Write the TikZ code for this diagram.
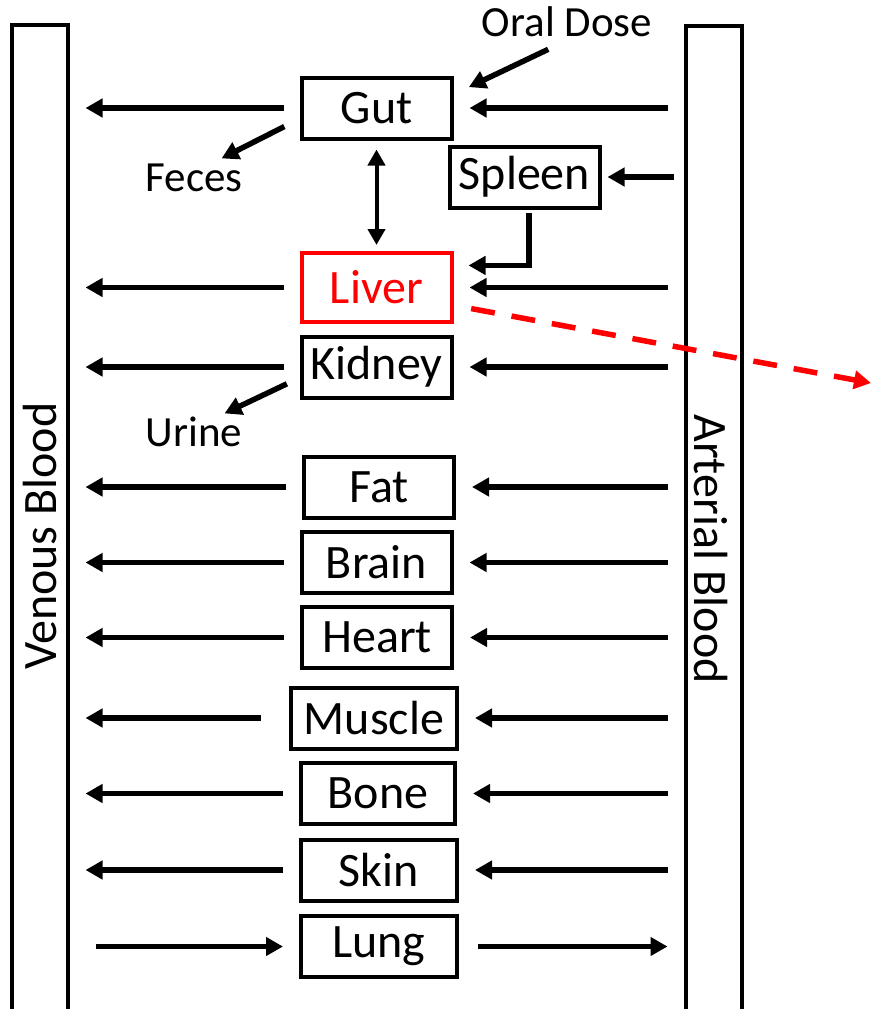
\documentclass[tikz,border=0pt]{standalone}
\usepackage{fontspec}
\setmainfont{Carlito}
\usetikzlibrary{arrows.meta,positioning,calc}
\definecolor{Red}{HTML}{FF0000}
\tikzset{
  organ/.style={draw,line width=4pt,minimum width=150pt,minimum height=61pt,inner sep=0pt,
    font=\fontsize{48}{52}\selectfont},
  bloodbar/.style={draw,line width=4pt,minimum width=56pt,minimum height=1010pt,inner sep=0pt},
  barlabel/.style={inner sep=0pt,font=\fontsize{48}{52}\selectfont},
  tag/.style={inner sep=0pt,font=\fontsize{43}{48}\selectfont},
  arrow/.style={-{Triangle[length=17pt,width=18pt]},line width=5.5pt,shorten <=16pt,shorten >=16pt},
  twoway/.style={{Triangle[length=16pt,width=17pt]}-{Triangle[length=16pt,width=17pt]},line width=4pt},
  excrete/.style={-{Triangle[length=17pt,width=18pt]},draw=Red,line width=5.5pt,
    dash pattern=on 24pt off 17pt,shorten <=18pt}
}
\begin{document}
\begin{tikzpicture}[x=1pt,y=-1pt]
    \useasboundingbox (0,0) rectangle (871,1009);
    \node[bloodbar] (ven) at (39.5,530) {};
    \node[bloodbar] (art) at (713.5,531) {};
    \node[barlabel,rotate=90] (venlbl) at (40,536) {Venous Blood};
    \node[barlabel,rotate=-90] (artlbl) at (711,549) {Arterial Blood};
    \node[organ] (gut) at (376.5,108) {Gut};
    \node[organ] (spleen) at (524.5,177) {Spleen};
    \node[organ,draw=Red,text=Red,minimum height=69pt] (liver) at (376.5,287.5) {Liver};
    \node[organ] (kidney) at (376.5,367) {Kidney};
    \node[organ] (fat) at (379,487) {Fat};
    \node[organ] (brain) at (376.5,562.5) {Brain};
    \node[organ] (heart) at (377,637.5) {Heart};
    \node[organ,minimum width=166pt] (muscle) at (374,718) {Muscle};
    \node[organ,minimum width=154pt] (bone) at (378,793.5) {Bone};
    \node[organ,minimum width=156pt] (skin) at (379,870) {Skin};
    \node[organ,minimum width=156pt] (lung) at (379,946.5) {Lung};
    \node[tag] (oral) at (567,22) {Oral Dose};
    \node[tag] (feces) at (194,178) {Feces};
    \node[tag] (urine) at (194,432) {Urine};
    \coordinate (bile) at (871,383);
    \draw[arrow] (gut.west) -- (ven.east |- gut.west); \draw[arrow] (art.west |- gut.east) -- (gut.east);
    \draw[arrow] (liver.west) -- (ven.east |- liver.west); \draw[arrow] (art.west |- liver.east) -- (liver.east);
    \draw[arrow] (kidney.west) -- (ven.east |- kidney.west); \draw[arrow] (art.west |- kidney.east) -- (kidney.east);
    \draw[arrow] (fat.west) -- (ven.east |- fat.west); \draw[arrow] (art.west |- fat.east) -- (fat.east);
    \draw[arrow] (brain.west) -- (ven.east |- brain.west); \draw[arrow] (art.west |- brain.east) -- (brain.east);
    \draw[arrow] (heart.west) -- (ven.east |- heart.west); \draw[arrow] (art.west |- heart.east) -- (heart.east);
    \draw[arrow,shorten <=28pt] (muscle.west) -- (ven.east |- muscle.west); \draw[arrow] (art.west |- muscle.east) -- (muscle.east);
    \draw[arrow] (bone.west) -- (ven.east |- bone.west); \draw[arrow] (art.west |- bone.east) -- (bone.east);
    \draw[arrow] (skin.west) -- (ven.east |- skin.west); \draw[arrow] (art.west |- skin.east) -- (skin.east);
    \draw[arrow,shorten <=26pt] (ven.east |- lung.west) -- (lung.west); \draw[arrow,shorten <=19pt] (lung.east) -- (art.west |- lung.east);
    \draw[arrow,shorten <=10pt,shorten >=6pt] (art.west |- spleen.east) -- (spleen.east);
    \draw[arrow,shorten <=3pt,shorten >=15pt] ([xshift=4.5pt]spleen.south) |- (liver.16);
    \draw[twoway,shorten <=9pt,shorten >=6pt] (gut.south) -- (liver.north);
    \draw[arrow,shorten <=28pt,shorten >=17pt] (oral.-67) -- (gut.10);
    \draw[arrow,shorten <=17pt,shorten >=12pt] (gut.188) -- (feces.40);
    \draw[arrow,shorten <=14pt,shorten >=8pt] (kidney.188) -- (urine.33);
    \draw[excrete] (liver.-13) -- (bile);
  \end{tikzpicture}
\end{document}
